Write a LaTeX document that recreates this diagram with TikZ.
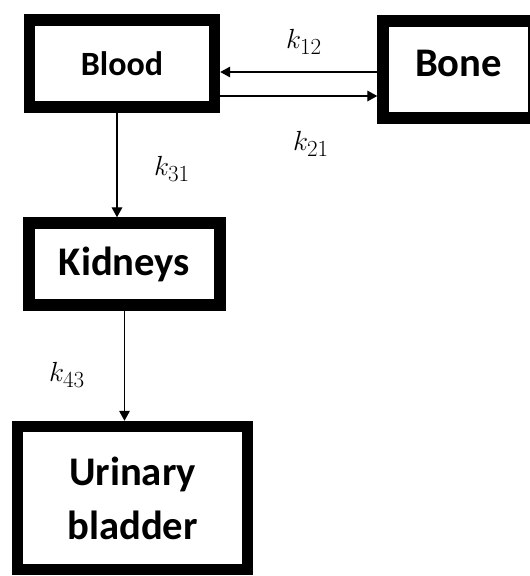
\documentclass[tikz,border=0pt]{standalone}
\usepackage{fontspec}
\setmainfont{Carlito}
\DeclareMathSizes{22}{22}{17}{13}
\usetikzlibrary{
	arrows.meta,
	calc,
	positioning
}

\begin{document}
\begin{tikzpicture}[
			x=0.75pt, y=-0.75pt,
			organ/.style={
				rectangle,
				draw,
				line width=8.6pt,
				inner sep=0pt,
				align=center,
				font=\bfseries\fontsize{30.5pt}{40.5pt}\selectfont
			},
			rate/.style={
				inner sep=0pt,
				font=\fontsize{22pt}{26pt}\selectfont
			},
			arr/.style={
				line width=1pt,
				-{Triangle[length=7.5pt,width=8pt]}
			}
			]
			
			\useasboundingbox (0,0) rectangle (530,576);
			
			\node[organ, minimum width=138.75pt, minimum height=65.25pt,
				font=\bfseries\fontsize{25.5pt}{30pt}\selectfont] (blood) at (122,63.5) {Blood};
			
			\node[organ, minimum width=113.25pt, minimum height=72.75pt,
				text depth=9pt] (bone) at (458.5,69.5) {Bone};
			
			\node[organ, minimum width=143.25pt, minimum height=61.5pt] (kid) at (124.5,264) {Kidneys};
			
			\node[organ, minimum width=172.5pt, minimum height=107.25pt] (bladder) at (132.5,498) {Urinary\\bladder};
			
			\node[rate] (k12) at (304,42) {$k_{12}$};
			\node[rate] (k21) at (311,144) {$k_{21}$};
			\node[rate] (k31) at (172,169) {$k_{31}$};
			\node[rate] (k43) at (67,375) {$k_{43}$};
			
			\draw[arr] (bone.west |- 0,72) -- (blood.east |- 0,72);
			\draw[arr] (blood.east |- 0,96) -- (bone.west |- 0,96);
			\draw[arr] (blood.south -| 117,0) -- (kid.north -| 117,0);
			\draw[arr] (kid.south) -- (bladder.north -| kid.south);
			
		\end{tikzpicture}
\end{document}
